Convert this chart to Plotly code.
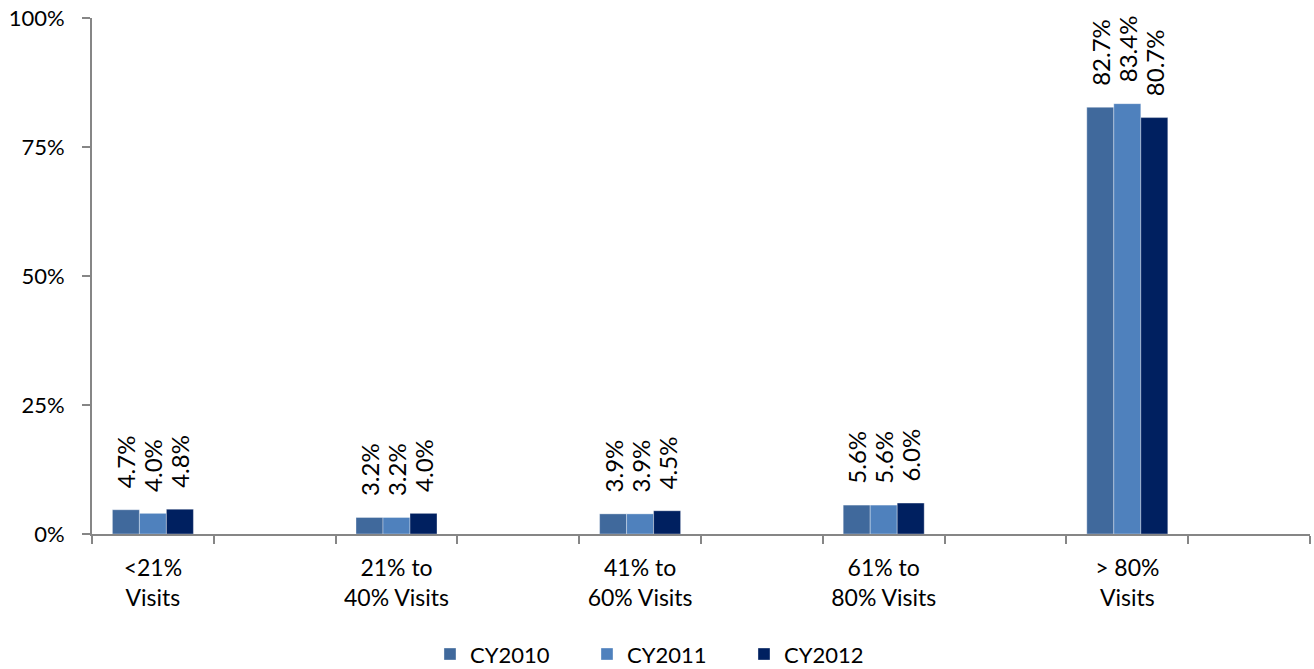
import plotly.graph_objects as go

# Visit-share buckets, with blank spacer slots between them on the category axis
categories = ["<21%<br>Visits", "21% to<br>40% Visits", "41% to<br>60% Visits",
              "61% to<br>80% Visits", "> 80%<br>Visits"]
spacers = [" ", "  ", "   ", "    ", "     "]

series_names = ["CY2010", "CY2011", "CY2012"]
cy2010 = [4.7, 3.2, 3.9, 5.6, 82.7]
cy2011 = [4.0, 3.2, 3.9, 5.6, 83.4]
cy2012 = [4.8, 4.0, 4.5, 6.0, 80.7]
colors = ["#40699C", "#4F81BD", "#002060"]

y_ticks = [0, 25, 50, 75, 100]

axis_order = []
for c, s in zip(categories, spacers):
    axis_order += [c, s]

FONT = "Lato"
PAD = "\u00a0\u00a0\u00a0"  # small gap between bar top and its rotated label

fig = go.Figure()
for name, vals, col in zip(series_names, [cy2010, cy2011, cy2012], colors):
    fig.add_trace(go.Bar(
        name=name, x=categories, y=vals,
        marker=dict(color=col, line=dict(color="rgba(255,255,255,0.35)", width=1)),
        text=[f"{PAD}{v:.1f}%" for v in vals],
        textposition="outside", textangle=-90, constraintext="none",
        cliponaxis=False,
        textfont=dict(family=FONT, size=24, color="#000000"),
    ))

fig.update_layout(
    width=1314, height=669,
    margin=dict(l=92, r=4, t=18, b=135, autoexpand=False),
    paper_bgcolor="white", plot_bgcolor="white",
    barmode="group", bargap=0.335, bargroupgap=0,
    font=dict(family=FONT, size=22, color="#000000"),
    showlegend=True,
    legend=dict(orientation="h", x=0.2775, xanchor="left", y=-0.233, yanchor="middle",
                entrywidth=112, itemwidth=30, font=dict(family=FONT, size=22),
                traceorder="normal"),
)
fig.update_xaxes(
    type="category", categoryorder="array", categoryarray=axis_order,
    range=[-0.5, len(axis_order) - 0.5], automargin=False,
    tickson="boundaries", ticks="outside", ticklen=8, tickcolor="#868686", tickwidth=2,
    showline=True, linecolor="#868686", linewidth=2,
    showgrid=False, tickangle=0, ticklabelstandoff=12,
    tickfont=dict(family=FONT, size=23),
)
fig.update_yaxes(
    range=[0, 100], tickvals=y_ticks, ticktext=[f"{t}%" for t in y_ticks],
    automargin=False,
    ticks="outside", ticklen=8, tickcolor="#868686", tickwidth=2,
    showline=True, linecolor="#868686", linewidth=2,
    showgrid=False, zeroline=False, ticklabelstandoff=13,
    tickfont=dict(family=FONT, size=22),
)

fig.write_html("out.html")
